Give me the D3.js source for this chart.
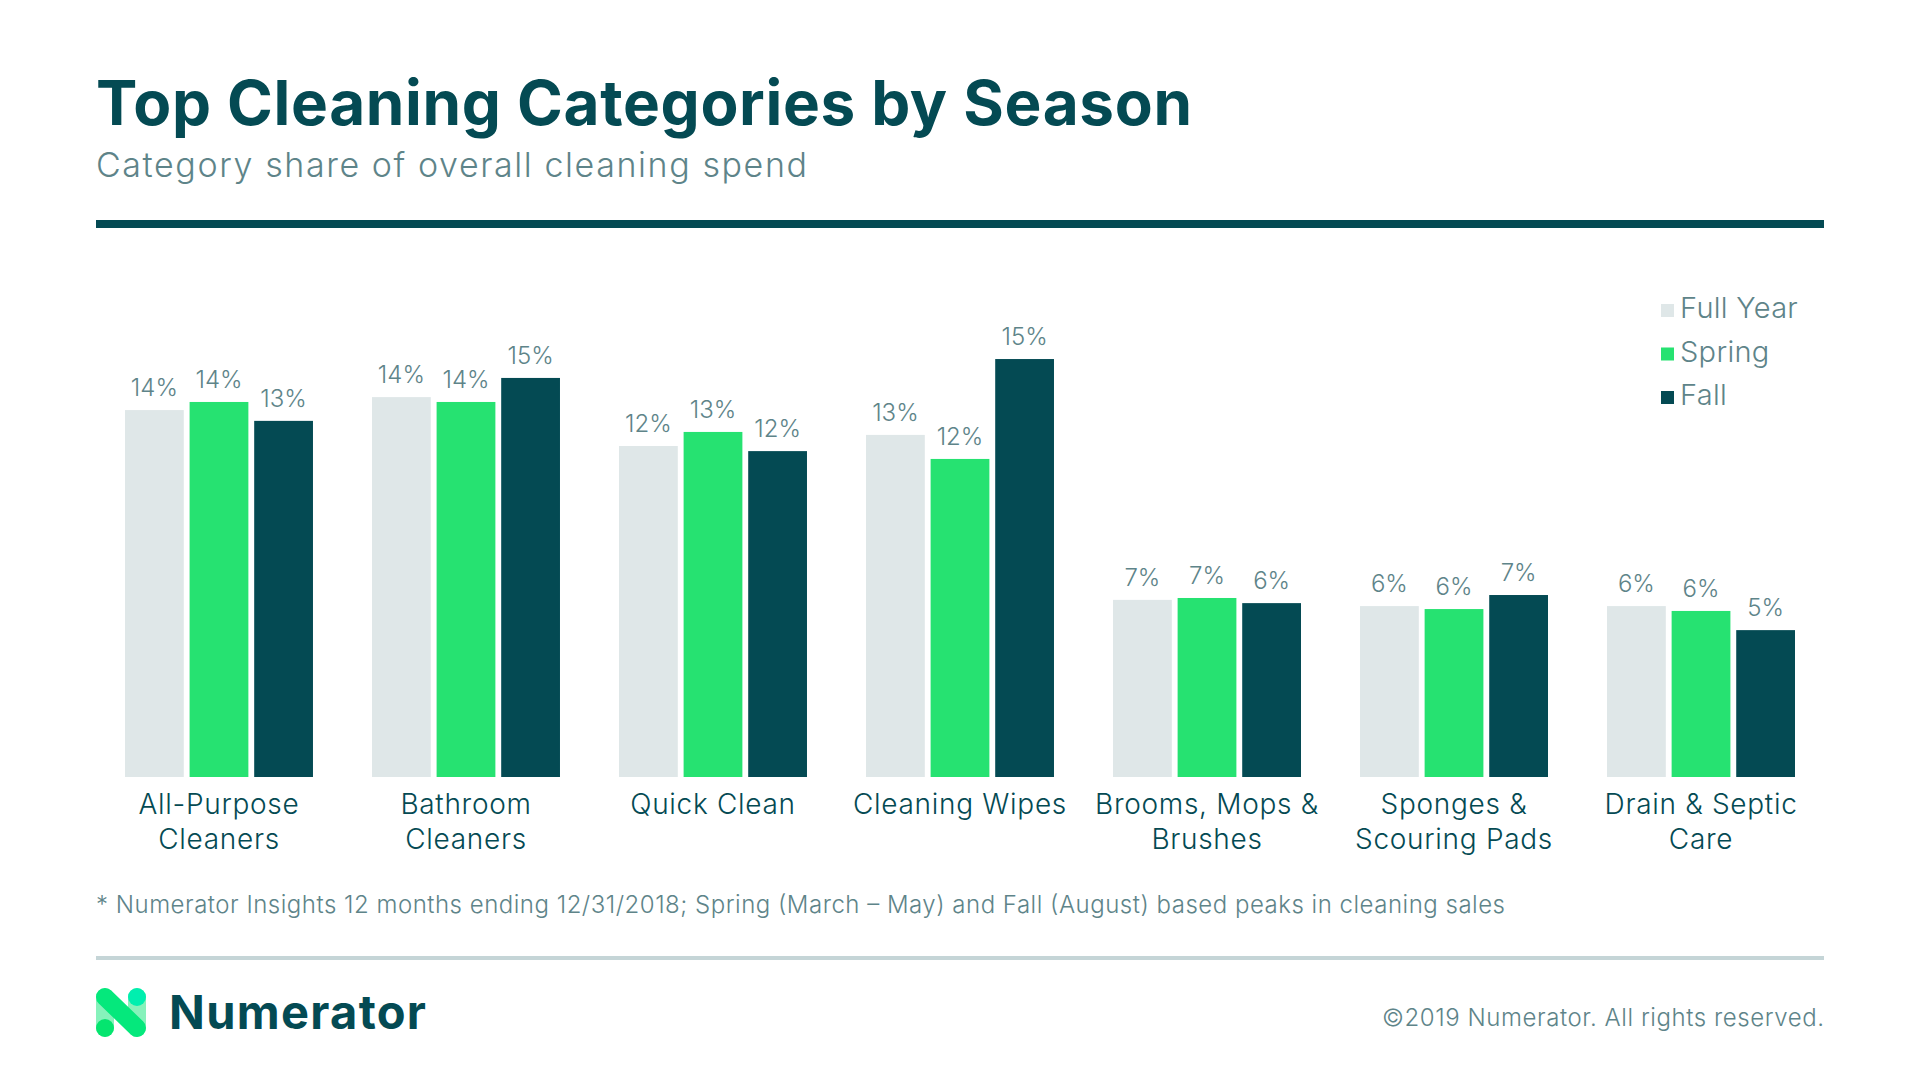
<!DOCTYPE html>
<html>
<head>
<meta charset="utf-8">
<script src="https://cdn.jsdelivr.net/npm/d3@7"></script>
<style>
	body { margin: 0; background: #fff; }
	text { font-family: Inter, sans-serif; }
</style>
</head>
<body>
<div class="canvas"></div>
<script>
const categories = ['All-Purpose\nCleaners', 'Bathroom\nCleaners', 'Quick Clean', 'Cleaning Wipes', 'Brooms, Mops &\nBrushes', 'Sponges &\nScouring Pads', 'Drain & Septic\nCare'];
const seasons = ['Full Year', 'Spring', 'Fall'];
const fullYear = [13.59, 14.07, 12.26, 12.67, 6.56, 6.33, 6.33];
const spring = [13.89, 13.89, 12.78, 11.78, 6.63, 6.22, 6.15];
const fall = [13.19, 14.78, 12.07, 15.48, 6.44, 6.74, 5.44];
const seasonValues = [fullYear, spring, fall];
const seasonColors = ['#dfe7e8', '#26e271', '#044a53'];

const dark = '#044a53';
const slate = '#5e8489';

const svg = d3.select('.canvas')
	.append('svg')
	.attr('width', 1920)
	.attr('height', 1080)
	.style('display', 'block');

// heading
svg.append('text').text('Top Cleaning Categories by Season')
	.attr('x', 96).attr('y', 125)
	.attr('font-size', 62).attr('font-weight', 700).attr('fill', dark)
	.attr('textLength', 1096).attr('lengthAdjust', 'spacing');

svg.append('text').text('Category share of overall cleaning spend')
	.attr('x', 96).attr('y', 177)
	.attr('font-size', 34).attr('font-weight', 300).attr('fill', slate)
	.attr('textLength', 711).attr('lengthAdjust', 'spacing');

svg.append('rect').attr('x', 96).attr('y', 220).attr('width', 1728).attr('height', 8).attr('fill', dark);

// scales
const x = d3.scaleBand()
	.domain(categories)
	.range([125, 1795])
	.paddingInner(0.239)
	.paddingOuter(0);

const xInner = d3.scaleBand()
	.domain(seasons)
	.range([0, x.bandwidth()])
	.paddingInner(0.09);

const y = d3.scaleLinear()
	.domain([0, 16])
	.range([777, 345]);

// bars and value labels
const groups = svg.selectAll('.group')
	.data(categories)
	.enter()
	.append('g')
	.attr('class', 'group')
	.attr('transform', d => `translate(${x(d)}, 0)`);

const cells = groups.selectAll('g')
	.data((d, i) => seasons.map((s, j) => ({ season: s, value: seasonValues[j][i], color: seasonColors[j] })))
	.enter()
	.append('g');

cells.append('rect')
	.attr('x', d => xInner(d.season))
	.attr('y', d => y(d.value))
	.attr('width', xInner.bandwidth())
	.attr('height', d => y(0) - y(d.value))
	.attr('fill', d => d.color);

cells.append('text')
	.text(d => Math.round(d.value) + '%')
	.attr('x', d => xInner(d.season) + xInner.bandwidth() / 2)
	.attr('y', d => y(d.value) - 14)
	.attr('text-anchor', 'middle')
	.attr('font-size', 24)
	.attr('font-weight', 300)
	.attr('fill', slate);

// category axis, labels split over two lines
const xAxis = d3.axisBottom(x).tickSize(0).tickPadding(0);
const xAxisGroup = svg.append('g')
	.attr('transform', `translate(0, ${y(0)})`)
	.call(xAxis);
xAxisGroup.select('.domain').remove();
xAxisGroup.selectAll('text').each(function(d) {
	const label = d3.select(this).text(null)
		.attr('y', 37).attr('dy', null)
		.attr('font-size', 28)
		.attr('font-weight', 300)
		.attr('letter-spacing', 0.7)
		.attr('fill', dark);
	d.split('\n').forEach((line, i) => {
		label.append('tspan').attr('x', 0).attr('y', 37 + i * 35).text(line);
	});
});

// legend
const legendY = d3.scalePoint().domain(seasons).range([318, 405]);
const legend = svg.selectAll('.legend')
	.data(seasons)
	.enter()
	.append('g')
	.attr('class', 'legend');
legend.append('rect')
	.attr('x', 1661).attr('y', d => legendY(d) - 14)
	.attr('width', 13).attr('height', 13)
	.attr('fill', (d, i) => seasonColors[i]);
legend.append('text').text(d => d)
	.attr('x', 1680).attr('y', d => legendY(d))
	.attr('font-size', 29)
	.attr('font-weight', 300)
	.attr('letter-spacing', 0.3)
	.attr('fill', slate);

// footer
svg.append('text').text('* Numerator Insights 12 months ending 12/31/2018; Spring (March \u2013 May) and Fall (August) based peaks in cleaning sales')
	.attr('x', 96).attr('y', 913)
	.attr('font-size', 24).attr('font-weight', 300).attr('fill', slate)
	.attr('textLength', 1409).attr('lengthAdjust', 'spacing');

svg.append('rect').attr('x', 96).attr('y', 956).attr('width', 1728).attr('height', 4).attr('fill', '#c5d5d7');

svg.append('text').text('\u00a92019 Numerator. All rights reserved.')
	.attr('x', 1382).attr('y', 1026)
	.attr('font-size', 24).attr('font-weight', 300).attr('fill', slate)
	.attr('textLength', 442).attr('lengthAdjust', 'spacing');

// logo
const logo = svg.append('g').attr('fill', 'none').attr('stroke-width', 18).attr('stroke-linecap', 'round');
logo.append('path').attr('d', 'M105 997V1028').attr('stroke', '#86f2bb');
logo.append('path').attr('d', 'M137 997V1028').attr('stroke', '#86f2bb');
logo.append('path').attr('d', 'M105 1028V1028').attr('stroke', '#05e56f');
logo.append('path').attr('d', 'M137 997V997').attr('stroke', '#00efaf');
logo.append('path').attr('d', 'M105 997L137 1028').attr('stroke', '#05e87c');

svg.append('text').text('Numerator')
	.attr('x', 169).attr('y', 1029)
	.attr('font-size', 47).attr('font-weight', 700).attr('fill', dark)
	.attr('textLength', 257).attr('lengthAdjust', 'spacing');
</script>
</body>
</html>
